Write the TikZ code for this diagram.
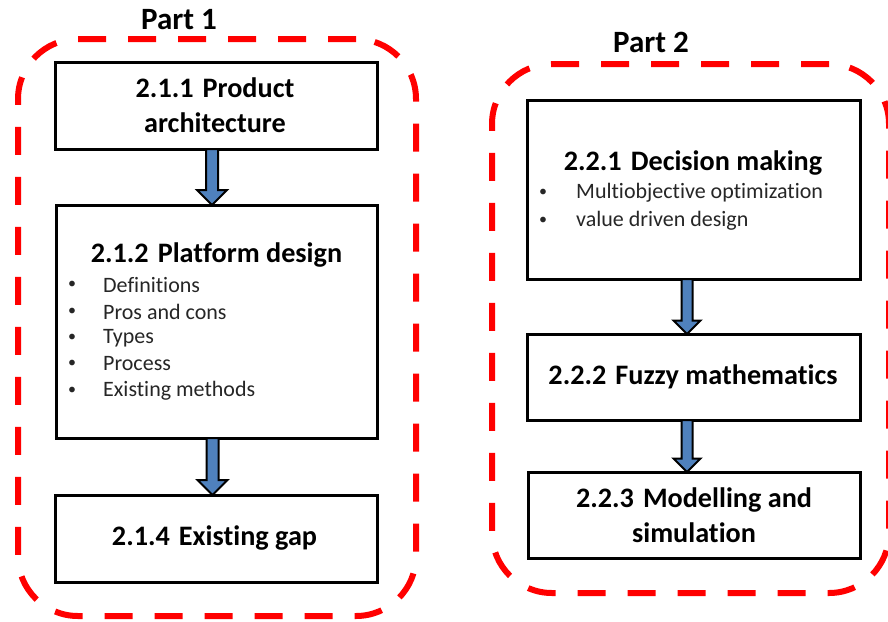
\documentclass[tikz,border=0pt]{standalone}
\usepackage{fontspec}
\setmainfont{Carlito}[Ligatures=CommonOff]
\usetikzlibrary{calc}
\definecolor{dashred}{RGB}{255,0,0}
\definecolor{arrowblue}{RGB}{79,129,189}
\definecolor{itemgray}{RGB}{38,38,38}
\tikzset{
  partbox/.style={draw=dashred, line width=6pt, dash pattern=on 28pt off 22pt,
    rounded corners=60pt, rectangle, inner sep=0pt, outer sep=0pt},
  stepbox/.style={draw=black, line width=3pt, fill=white, rectangle, inner sep=0pt, outer sep=0pt},
  headtext/.style={font=\bfseries\fontsize{28.2}{35}\selectfont, align=center, inner sep=0pt},
  parttitle/.style={font=\bfseries\fontsize{31}{35}\selectfont, inner sep=0pt},
  itemtext/.style={font=\fontsize{22}{26}\selectfont, anchor=west, inner sep=0pt, text=itemgray},
  bulletdot/.style={font=\fontsize{16}{20}\selectfont, inner sep=0pt, text=itemgray},
  fatarrow/.style={draw=black, line width=2pt, fill=arrowblue, line join=miter}
}
% #1 from, #2 to, #3 x offset, #4 shaft half width, #5 head half width (= head length)
\newcommand\fatarr[5]{%
  \draw[fatarrow] let \p1=($(#1.south)+(#3,0)$), \p2=(#2.north) in
    (\x1-#4pt,\y1) -- (\x1-#4pt,\y2+#5pt) -- (\x1-#5pt,\y2+#5pt) -- (\x1,\y2)
    -- (\x1+#5pt,\y2+#5pt) -- (\x1+#4pt,\y2+#5pt) -- (\x1+#4pt,\y1) -- cycle;}
\begin{document}
\begin{tikzpicture}[x=1pt,y=-1pt]
\useasboundingbox (0,0) rectangle (888,621);
% dashed part frames
\node[partbox, minimum width=398pt, minimum height=577pt] (p1) at (217,327.5) {};
\node[partbox, minimum width=397pt, minimum height=529pt] (p2) at (690.5,328.5) {};
\node[parttitle] (p1t) at (179,20) {Part 1};
\node[parttitle] (p2t) at (651,42) {Part 2};
% part 1 boxes
\node[stepbox, minimum width=322pt, minimum height=87pt] (b211) at (216,105.5) {};
\node[stepbox, minimum width=321pt, minimum height=233pt] (b212) at (216.5,321.5) {};
\node[stepbox, minimum width=322pt, minimum height=87pt] (b214) at (216,538.5) {};
% part 2 boxes
\node[stepbox, minimum width=333pt, minimum height=179pt] (b221) at (693.5,189.5) {};
\node[stepbox, minimum width=333pt, minimum height=86pt] (b222) at (693.5,377) {};
\node[stepbox, minimum width=332pt, minimum height=86pt] (b223) at (694,515) {};
% texts part 1
\node[headtext] (t211) at (215,105.5) {2.1.1\hspace{0.32em}Product\\architecture};
\node[headtext] (t212) at (216.5,255) {2.1.2\hspace{0.32em}Platform design};
\foreach \y/\t [count=\i] in {285/Definitions,312/Pros and cons,338/Types,364/Process,391/Existing methods}{
  \node[bulletdot] (d212\i) at (72,\y) {•};
  \node[itemtext] (i212\i) at (103,\y) {\t};
}
\node[headtext] (t214) at (214.5,538) {2.1.4\hspace{0.32em}Existing gap};
% texts part 2
\node[headtext] (t221) at (693,163) {2.2.1\hspace{0.32em}Decision making};
\node[bulletdot] (d2211) at (543,193) {•};
\node[itemtext] (i2211) at (576,193) {Multiobjective optimization};
\node[bulletdot] (d2212) at (543,221) {•};
\node[itemtext] (i2212) at (576,221) {value driven design};
\node[headtext] (t222) at (693,377) {2.2.2\hspace{0.32em}Fuzzy mathematics};
\node[headtext] (t223) at (694,515.5) {2.2.3\hspace{0.32em}Modelling and\\simulation};
% arrows
\fatarr{b211}{b212}{-4}{6}{15}
\fatarr{b212}{b214}{-4}{6}{15}
\fatarr{b221}{b222}{-6.5}{5.5}{13.5}
\fatarr{b222}{b223}{-6.5}{5.5}{13.5}
\end{tikzpicture}
\end{document}
